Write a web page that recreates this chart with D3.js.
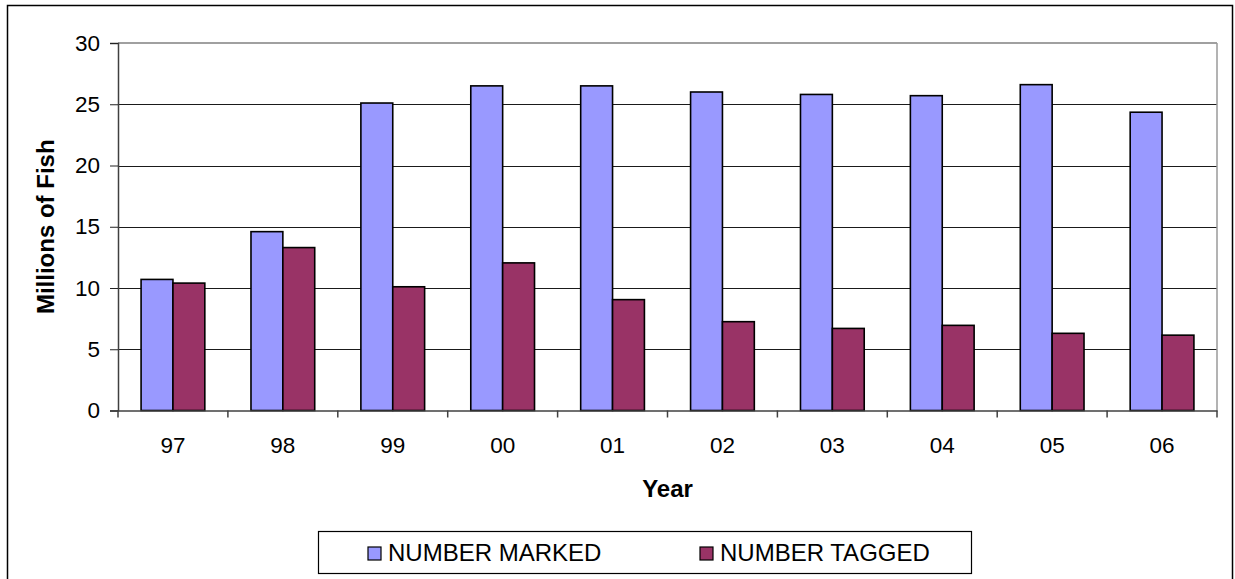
<!DOCTYPE html>
<html>
<head>
<meta charset="utf-8">
<script src="https://cdn.jsdelivr.net/npm/d3@7"></script>
<style>
  body { margin: 0; background: #fff; }
  text { font-family: "Liberation Sans", Arial, sans-serif; }
</style>
</head>
<body>
<div id="chart"></div>
<script>
// data (millions of fish)
var years = ["97", "98", "99", "00", "01", "02", "03", "04", "05", "06"];
var numberMarked = [10.7, 14.6, 25.1, 26.5, 26.5, 26.0, 25.8, 25.7, 26.6, 24.35];
var numberTagged = [10.4, 13.3, 10.1, 12.05, 9.05, 7.25, 6.7, 6.95, 6.3, 6.15];
var seriesNames = ["NUMBER MARKED", "NUMBER TAGGED"];
var seriesColors = ["#9999FF", "#993366"];
var yTicks = [0, 5, 10, 15, 20, 25, 30];

var width = 1235;
var height = 579;
var plot = { left: 118, right: 1217, top: 43, bottom: 410.5 };

var svg = d3.select("#chart")
    .append("svg")
    .attr("width", width)
    .attr("height", height);

// outer frame (bottom edge falls outside the window)
svg.append("rect")
    .attr("x", 7.5).attr("y", 5.5)
    .attr("width", 1225).attr("height", 600)
    .attr("fill", "none")
    .attr("stroke", "#000")
    .attr("stroke-width", 1.5);

var x = d3.scaleBand()
    .domain(years)
    .range([plot.left, plot.right])
    .paddingInner(0)
    .paddingOuter(0);

var inner = d3.scaleBand()
    .domain([0, 1])
    .range([x.bandwidth() * 0.21, x.bandwidth() * 0.79]);

var y = d3.scaleLinear()
    .domain([0, 30])
    .range([plot.bottom, plot.top]);

// gridlines
svg.append("g")
    .selectAll("line")
    .data(yTicks.filter(function (d) { return d > 0 && d < 30; }))
    .enter()
    .append("line")
    .attr("x1", plot.left).attr("x2", plot.right)
    .attr("y1", function (d) { return Math.round(y(d)) + 0.5; })
    .attr("y2", function (d) { return Math.round(y(d)) + 0.5; })
    .attr("stroke", "#1a1a1a")
    .attr("stroke-width", 1);

// plot top and right border
svg.append("line")
    .attr("x1", plot.left).attr("x2", plot.right)
    .attr("y1", plot.top).attr("y2", plot.top)
    .attr("stroke", "#808080").attr("stroke-width", 1.5);
svg.append("line")
    .attr("x1", plot.right).attr("x2", plot.right)
    .attr("y1", plot.top).attr("y2", plot.bottom)
    .attr("stroke", "#9a9a9a").attr("stroke-width", 1.5);

// bars
var series = [numberMarked, numberTagged];
series.forEach(function (vals, si) {
    svg.append("g")
        .selectAll("rect")
        .data(vals)
        .enter()
        .append("rect")
        .attr("x", function (d, i) { return x(years[i]) + inner(si); })
        .attr("y", function (d) { return y(d); })
        .attr("width", inner.bandwidth())
        .attr("height", function (d) { return y(0) - y(d); })
        .attr("fill", seriesColors[si])
        .attr("stroke", "#000")
        .attr("stroke-width", 1.6);
});

// y axis
var yAxis = svg.append("g")
    .attr("transform", "translate(" + plot.left + ",0)")
    .call(d3.axisLeft(y).tickValues(yTicks).tickSize(8).tickPadding(10));
yAxis.select(".domain").attr("stroke", "#404040").attr("stroke-width", 1.5);
yAxis.selectAll(".tick line").attr("stroke", "#222");
yAxis.selectAll("text")
    .style("font-size", "22.5px")
    .attr("fill", "#000")
    .attr("font-family", "Liberation Sans, Arial, sans-serif");

// x axis
var xAxis = svg.append("g")
    .attr("transform", "translate(0," + plot.bottom + ")")
    .call(d3.axisBottom(x).tickSize(0).tickPadding(27));
xAxis.select(".domain").attr("stroke", "#404040").attr("stroke-width", 1.5);
xAxis.selectAll("text")
    .style("font-size", "22.5px")
    .attr("fill", "#000")
    .attr("font-family", "Liberation Sans, Arial, sans-serif");

// category boundary ticks
svg.append("g")
    .selectAll("line")
    .data(years.concat(["end"]))
    .enter()
    .append("line")
    .attr("x1", function (d, i) { return i < years.length ? x(d) : plot.right; })
    .attr("x2", function (d, i) { return i < years.length ? x(d) : plot.right; })
    .attr("y1", plot.bottom)
    .attr("y2", plot.bottom + 7)
    .attr("stroke", "#404040")
    .attr("stroke-width", 1.5);

// axis titles
svg.append("text")
    .attr("x", (plot.left + plot.right) / 2)
    .attr("y", 497)
    .attr("text-anchor", "middle")
    .style("font-size", "24px")
    .style("font-weight", "bold")
    .text("Year");

svg.append("text")
    .attr("transform", "translate(54," + ((plot.top + plot.bottom) / 2) + ") rotate(-90)")
    .attr("text-anchor", "middle")
    .style("font-size", "24px")
    .style("font-weight", "bold")
    .text("Millions of Fish");

// legend
var legend = svg.append("g");
legend.append("rect")
    .attr("x", 318.5).attr("y", 531.5)
    .attr("width", 653).attr("height", 42)
    .attr("fill", "#fff")
    .attr("stroke", "#000")
    .attr("stroke-width", 1.2);

var legendX = [368, 700];
seriesNames.forEach(function (name, i) {
    legend.append("rect")
        .attr("x", legendX[i]).attr("y", 547)
        .attr("width", 13).attr("height", 13)
        .attr("fill", seriesColors[i])
        .attr("stroke", "#000")
        .attr("stroke-width", 1.2);
    legend.append("text")
        .attr("x", legendX[i] + 20)
        .attr("y", 561)
        .style("font-size", "24px")
        .text(name);
});
</script>
</body>
</html>
